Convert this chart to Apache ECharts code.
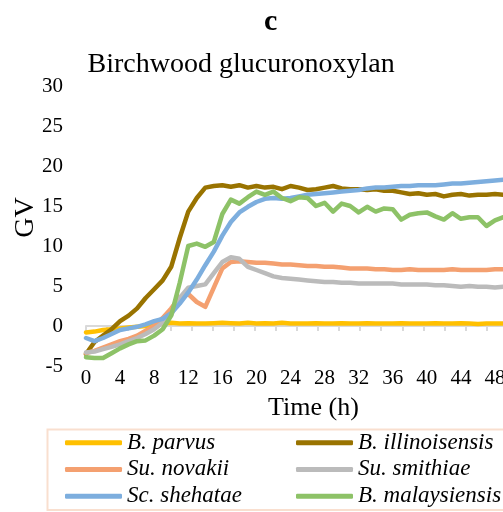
<!DOCTYPE html>
<html>
<head>
<meta charset="utf-8">
<script src="https://cdn.jsdelivr.net/npm/echarts@6/dist/echarts.min.js"></script>
<style>
  html, body { margin: 0; padding: 0; background: #fff; }
  #chart { width: 503px; height: 512px; }
</style>
</head>
<body>
<div id="chart"></div>
<script>
// time points (h)
const hours = [0,1,2,3,4,5,6,7,8,9,10,11,12,13,14,15,16,17,18,19,20,21,22,23,24,25,
  26,27,28,29,30,31,32,33,34,35,36,37,38,39,40,41,42,43,44,45,46,47,48,49,50];

const parvus = [-0.8,-0.7,-0.5,-0.4,-0.3,-0.2,-0.1,0.0,0.1,0.3,0.4,0.3,0.35,0.3,0.3,0.35,0.4,0.35,0.3,0.4,
  0.3,0.35,0.3,0.4,0.3,0.3,0.3,0.35,0.3,0.3,0.35,0.3,0.3,0.35,0.3,0.3,0.3,0.35,0.3,0.3,
  0.3,0.35,0.3,0.3,0.35,0.3,0.25,0.3,0.3,0.3,0.3];
const illinoisensis = [-3.5,-2.0,-1.2,-0.4,0.6,1.3,2.2,3.5,4.6,5.7,7.4,11.0,14.3,16.0,17.3,17.5,17.6,17.4,17.6,17.3,
  17.5,17.3,17.4,17.1,17.5,17.3,17.0,17.1,17.3,17.5,17.2,17.1,17.1,17.0,17.1,16.9,16.9,16.7,16.5,16.6,
  16.4,16.5,16.2,16.4,16.5,16.3,16.4,16.4,16.5,16.4,16.4];
const novakii = [-3.4,-3.1,-2.7,-2.3,-1.9,-1.6,-1.2,-0.6,0.0,1.0,2.2,3.6,4.0,3.0,2.4,4.8,7.2,8.0,8.1,8.0,
  7.9,7.9,7.8,7.7,7.7,7.6,7.5,7.5,7.4,7.4,7.3,7.2,7.2,7.2,7.1,7.1,7.0,7.0,7.1,7.0,
  7.0,7.0,7.0,7.1,7.0,7.0,7.0,7.0,7.1,7.1,7.1];
const smithiae = [-3.3,-3.2,-2.9,-2.6,-2.3,-1.9,-1.5,-1.0,-0.4,0.4,1.4,3.5,4.8,5.0,5.2,6.6,8.0,8.6,8.4,7.4,
  7.0,6.6,6.2,6.0,5.9,5.8,5.7,5.6,5.5,5.5,5.4,5.4,5.3,5.3,5.3,5.3,5.3,5.2,5.2,5.2,
  5.2,5.1,5.1,5.0,4.9,5.0,4.9,4.9,4.8,4.9,4.9];
const shehatae = [-1.5,-1.9,-1.5,-1.0,-0.5,-0.3,-0.1,0.2,0.6,0.9,1.6,2.8,4.2,5.8,7.6,9.3,11.3,13.0,14.2,14.9,
  15.5,15.9,16.0,15.9,16.0,16.2,16.4,16.5,16.6,16.7,16.8,16.9,17.0,17.2,17.3,17.3,17.4,17.5,17.5,17.6,
  17.6,17.6,17.7,17.8,17.8,17.9,18.0,18.1,18.2,18.3,18.3];
const malaysiensis = [-3.9,-4.0,-4.0,-3.4,-2.8,-2.3,-1.9,-1.8,-1.2,-0.4,1.3,5.4,10.0,10.3,9.9,10.5,14.0,15.8,15.3,16.1,
  16.8,16.4,16.8,16.0,15.6,16.1,16.0,15.0,15.4,14.3,15.3,15.0,14.2,14.9,14.3,14.7,14.6,13.3,13.9,14.1,
  14.2,13.7,13.3,14.1,13.4,13.6,13.6,12.5,13.2,13.6,13.6];

const names = ["B. parvus", "B. illinoisensis", "Su. novakii", "Su. smithiae", "Sc. shehatae", "B. malaysiensis"];
const values = [parvus, illinoisensis, novakii, smithiae, shehatae, malaysiensis];
const colors = ["#FFC000", "#997300", "#F4A070", "#BBBBBB", "#7DAEDE", "#8DC267"];

const serif = "Liberation Serif";
const myChart = echarts.init(document.getElementById("chart"));

const option = {
  animation: false,
  color: colors,
  title: [
    {
      text: "c",
      left: 264, top: 7, padding: 0,
      textStyle: { fontFamily: serif, fontSize: 30, fontWeight: "bold", color: "#000" }
    },
    {
      text: "Birchwood glucuronoxylan",
      left: 87.5, top: 50.5, padding: 0,
      textStyle: { fontFamily: serif, fontSize: 28, fontWeight: "normal", color: "#000" }
    }
  ],
  legend: [
    {
      data: [names[0], names[2], names[4]],
      orient: "vertical",
      left: 65, top: 429.4, padding: 0,
      itemGap: 0, itemWidth: 57, itemHeight: 5, icon: "roundRect",
      textStyle: { fontFamily: serif, fontSize: 23, fontStyle: "italic", color: "#000", lineHeight: 26.7 }
    },
    {
      data: [names[1], names[3], names[5]],
      orient: "vertical",
      left: 296, top: 429.4, padding: 0,
      itemGap: 0, itemWidth: 57, itemHeight: 5, icon: "roundRect",
      textStyle: { fontFamily: serif, fontSize: 23, fontStyle: "italic", color: "#000", lineHeight: 26.7 }
    }
  ],
  graphic: [
    {
      type: "rect",
      shape: { x: 47.5, y: 429.5, width: 480, height: 80.5 },
      style: { fill: "none", stroke: "#F9DFCF", lineWidth: 2 },
      silent: true
    }
  ],
  grid: { left: 86, top: 86, right: -38, bottom: 146, outerBoundsMode: "none", containLabel: false },
  xAxis: [
    {
      // zero line with its ticks
      type: "value",
      min: 0, max: 53.4, interval: 2.475,
      axisLine: { show: true, onZero: true, lineStyle: { color: "#D9D9D9", width: 2 } },
      axisTick: { show: true, length: 5, lineStyle: { color: "#D9D9D9", width: 2 } },
      axisLabel: { show: false },
      splitLine: { show: false }
    },
    {
      // labels at the bottom
      type: "value",
      position: "bottom",
      min: 0, max: 53.4, interval: 4,
      axisLine: { show: false, onZero: false },
      axisTick: { show: false },
      splitLine: { show: false },
      axisLabel: { margin: 2, fontFamily: serif, fontSize: 21, color: "#000", showMaxLabel: false, hideOverlap: false },
      name: "Time (h)",
      nameLocation: "middle",
      nameGap: 29,
      nameTextStyle: { fontFamily: serif, fontSize: 26, color: "#000" }
    }
  ],
  yAxis: {
    type: "value",
    min: -5, max: 30, interval: 5,
    axisLine: { show: false },
    axisTick: { show: false },
    splitLine: { show: false },
    axisLabel: { margin: 23, fontFamily: serif, fontSize: 21, color: "#000" },
    name: "GV",
    nameLocation: "middle",
    nameGap: 46,
    nameMoveOverlap: false,
    nameTextStyle: { fontFamily: serif, fontSize: 28, color: "#000", padding: [0, 0, 0, 17] }
  },
  series: names.map((n, k) => ({
    name: n,
    type: "line",
    xAxisIndex: 0,
    showSymbol: false,
    symbol: "none",
    lineStyle: { width: 4.5, cap: "round", join: "round" },
    data: hours.map((h, i) => [h, values[k][i]])
  }))
};
myChart.setOption(option);
</script>
</body>
</html>
